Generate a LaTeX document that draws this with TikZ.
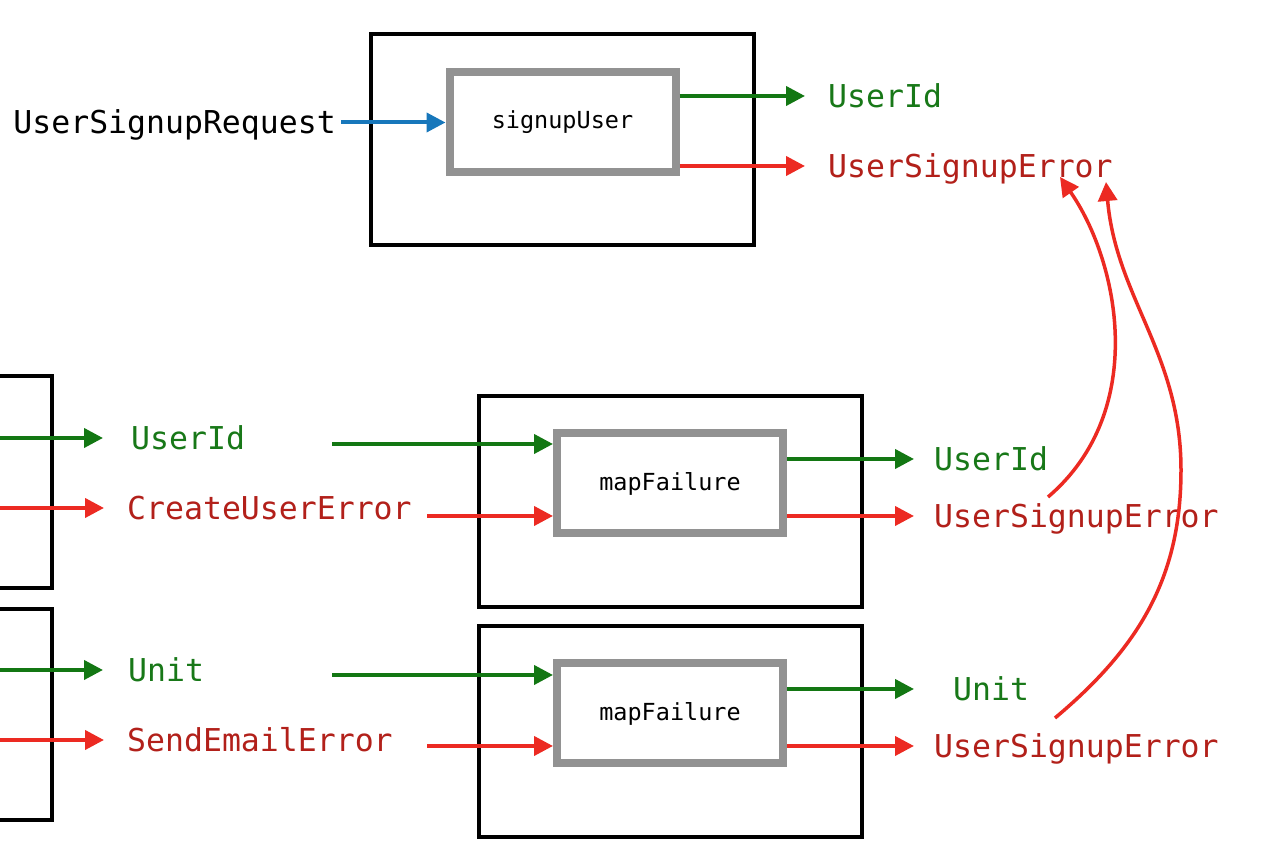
\documentclass[tikz,border=0pt]{standalone}
\usepackage{fontspec}
\setmonofont{DejaVu Sans Mono}
\usetikzlibrary{arrows.meta}
\definecolor{lgreen}{HTML}{137713}
\definecolor{tgreen}{HTML}{187818}
\definecolor{lred}{HTML}{EC2A22}
\definecolor{tred}{HTML}{B2201A}
\definecolor{lblue}{HTML}{1777BB}
\definecolor{boxgray}{HTML}{929292}
\newcommand\lblfont{\ttfamily\fontsize{31.5}{36}\selectfont}
\newcommand\fnfont{\ttfamily\fontsize{23.5}{28}\selectfont}
\tikzset{
  outerbox/.style={draw=black, line width=4pt, minimum width=383pt, minimum height=211pt, inner sep=0pt},
  fnbox/.style={draw=boxgray, line width=8pt, fill=white, minimum width=226pt, minimum height=100pt, inner sep=0pt, font=\fnfont},
  flow/.style={line width=4pt, -{Triangle[length=19pt,width=19pt]}},
  gflow/.style={flow, draw=lgreen},
  rflow/.style={flow, draw=lred},
  bflow/.style={flow, draw=lblue},
  glbl/.style={anchor=base west, inner sep=0pt, font=\lblfont, text=tgreen},
  rlbl/.style={anchor=base west, inner sep=0pt, font=\lblfont, text=tred},
}
\begin{document}
\begin{tikzpicture}[x=1pt,y=1pt]
\useasboundingbox (0,0) rectangle (1264,850);

% ---------- top: signupUser ----------
\node[outerbox] (top) at (562.5,710) {};
\node[fnbox] (sU) at (562.5,727.5) {signupUser};
\node[anchor=base east, inner sep=0pt, font=\lblfont] (req) at (336,716.5) {UserSignupRequest};
\draw[bflow] ([xshift=5pt]req.east |- sU.west) -- (sU.west);
\coordinate (t1g) at (805,754);
\coordinate (t1r) at (805,684);
\draw[gflow] (sU.east |- t1g) -- (t1g);
\draw[rflow] (sU.east |- t1r) -- (t1r);
\node[glbl] (tUid) at (828,742.5) {UserId};
\node[rlbl] (tUerr) at (828,672.5) {UserSignupError};

% ---------- left partial boxes ----------
\draw[line width=4pt] (-10,474) -- (52,474) -- (52,262) -- (-10,262);
\draw[line width=4pt] (-10,241) -- (52,241) -- (52,30) -- (-10,30);
\coordinate (l1g0) at (0,412);  \coordinate (l1g1) at (103,412);
\coordinate (l1r0) at (0,342);  \coordinate (l1r1) at (104,342);
\coordinate (l2g0) at (0,180);  \coordinate (l2g1) at (103,180);
\coordinate (l2r0) at (0,110);  \coordinate (l2r1) at (104,110);
\draw[gflow] (l1g0) -- (l1g1);
\draw[rflow] (l1r0) -- (l1r1);
\draw[gflow] (l2g0) -- (l2g1);
\draw[rflow] (l2r0) -- (l2r1);
\node[glbl] (lUid) at (131,400.5) {UserId};
\node[rlbl] (lCerr) at (127,330.5) {CreateUserError};
\node[glbl] (lUnit) at (128,168.5) {Unit};
\node[rlbl] (lSerr) at (127,98.5) {SendEmailError};

% ---------- middle: mapFailure 1 ----------
\node[outerbox] (mb1) at (670,348.5) {};
\node[fnbox] (mf1) at (670,366.5) {mapFailure};
\coordinate (m1gi) at (332,406);
\coordinate (m1ri) at (427,334);
\draw[gflow] (m1gi) -- (m1gi -| mf1.west);
\draw[rflow] (m1ri) -- (m1ri -| mf1.west);
\coordinate (m1go) at (914,391);
\coordinate (m1ro) at (914,334);
\draw[gflow] (mf1.east |- m1go) -- (m1go);
\draw[rflow] (mf1.east |- m1ro) -- (m1ro);
\node[glbl] (mUid) at (934,379.5) {UserId};
\node[rlbl] (mUerr1) at (934,322.5) {UserSignupError};

% ---------- middle: mapFailure 2 ----------
\node[outerbox] (mb2) at (670,118.5) {};
\node[fnbox] (mf2) at (670,136.5) {mapFailure};
\coordinate (m2gi) at (332,175);
\coordinate (m2ri) at (427,104);
\draw[gflow] (m2gi) -- (m2gi -| mf2.west);
\draw[rflow] (m2ri) -- (m2ri -| mf2.west);
\coordinate (m2go) at (914,161);
\coordinate (m2ro) at (914,104);
\draw[gflow] (mf2.east |- m2go) -- (m2go);
\draw[rflow] (mf2.east |- m2ro) -- (m2ro);
\node[glbl] (mUnit) at (953,149.5) {Unit};
\node[rlbl] (mUerr2) at (934,92.5) {UserSignupError};

% ---------- curved feedback arrows ----------
\coordinate (c1s) at (1048,353);
\coordinate (c1e) at (1060,673);
\coordinate (c2s) at (1055,132);
\coordinate (c2m) at (1181,380);
\coordinate (c2e) at (1106,668);
\draw[rflow, line width=3.5pt] (c1s) .. controls (1150,440) and (1118,590) .. (c1e);
\draw[rflow, line width=3.5pt] (c2s) to[out=40, in=-90] (c2m) to[out=90, in=-85] (c2e);
\end{tikzpicture}
\end{document}
